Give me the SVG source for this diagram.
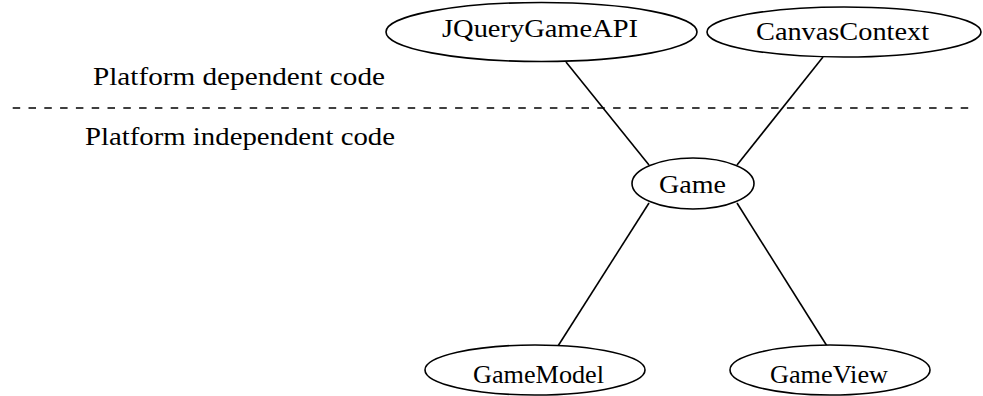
<svg xmlns="http://www.w3.org/2000/svg" width="983" height="396" viewBox="0 0 983 396">
  <style>
    .node ellipse { fill: #ffffff; stroke: #000000; stroke-width: 1.6; }
    text { font-family: 'Liberation Serif', 'DejaVu Serif', serif; font-size: 25px; fill: #000000; }
    .node text { text-anchor: middle; }
    .edge { stroke: #000000; stroke-width: 1.6; fill: none; }
    .divider { stroke: #000000; stroke-width: 1.7; stroke-dasharray: 7.5 8.3; fill: none; }
  </style>
  <rect width="983" height="396" fill="#ffffff"/>

  <!-- boundary between the two code layers -->
  <line class="divider" x1="12.7" y1="108" x2="975" y2="108"/>
  <text class="label" x="93" y="85" textLength="292" lengthAdjust="spacingAndGlyphs">Platform dependent code</text>
  <text class="label" x="85" y="145" textLength="310" lengthAdjust="spacingAndGlyphs">Platform independent code</text>

  <g id="connectors">
    <line class="edge" x1="566" y1="62" x2="649" y2="165"/>
    <line class="edge" x1="823" y1="57" x2="737" y2="165"/>
    <line class="edge" x1="649" y1="203" x2="558" y2="346"/>
    <line class="edge" x1="737" y1="203" x2="827" y2="346"/>
  </g>

  <g id="JQueryGameAPI" class="node">
    <ellipse cx="541.5" cy="32" rx="155.5" ry="29.5"/>
    <text x="540" y="37" textLength="196" lengthAdjust="spacingAndGlyphs">JQueryGameAPI</text>
  </g>
  <g id="CanvasContext" class="node">
    <ellipse cx="844" cy="32" rx="137" ry="25"/>
    <text x="842.5" y="40" textLength="173" lengthAdjust="spacingAndGlyphs">CanvasContext</text>
  </g>
  <g id="Game" class="node">
    <ellipse cx="693" cy="183.5" rx="61" ry="25.5"/>
    <text x="692.5" y="193" textLength="67" lengthAdjust="spacingAndGlyphs">Game</text>
  </g>
  <g id="GameModel" class="node">
    <ellipse cx="535" cy="370" rx="110" ry="25"/>
    <text x="538.5" y="383" textLength="131" lengthAdjust="spacingAndGlyphs">GameModel</text>
  </g>
  <g id="GameView" class="node">
    <ellipse cx="830" cy="370" rx="100" ry="25"/>
    <text x="829" y="383" textLength="118" lengthAdjust="spacingAndGlyphs">GameView</text>
  </g>
</svg>
